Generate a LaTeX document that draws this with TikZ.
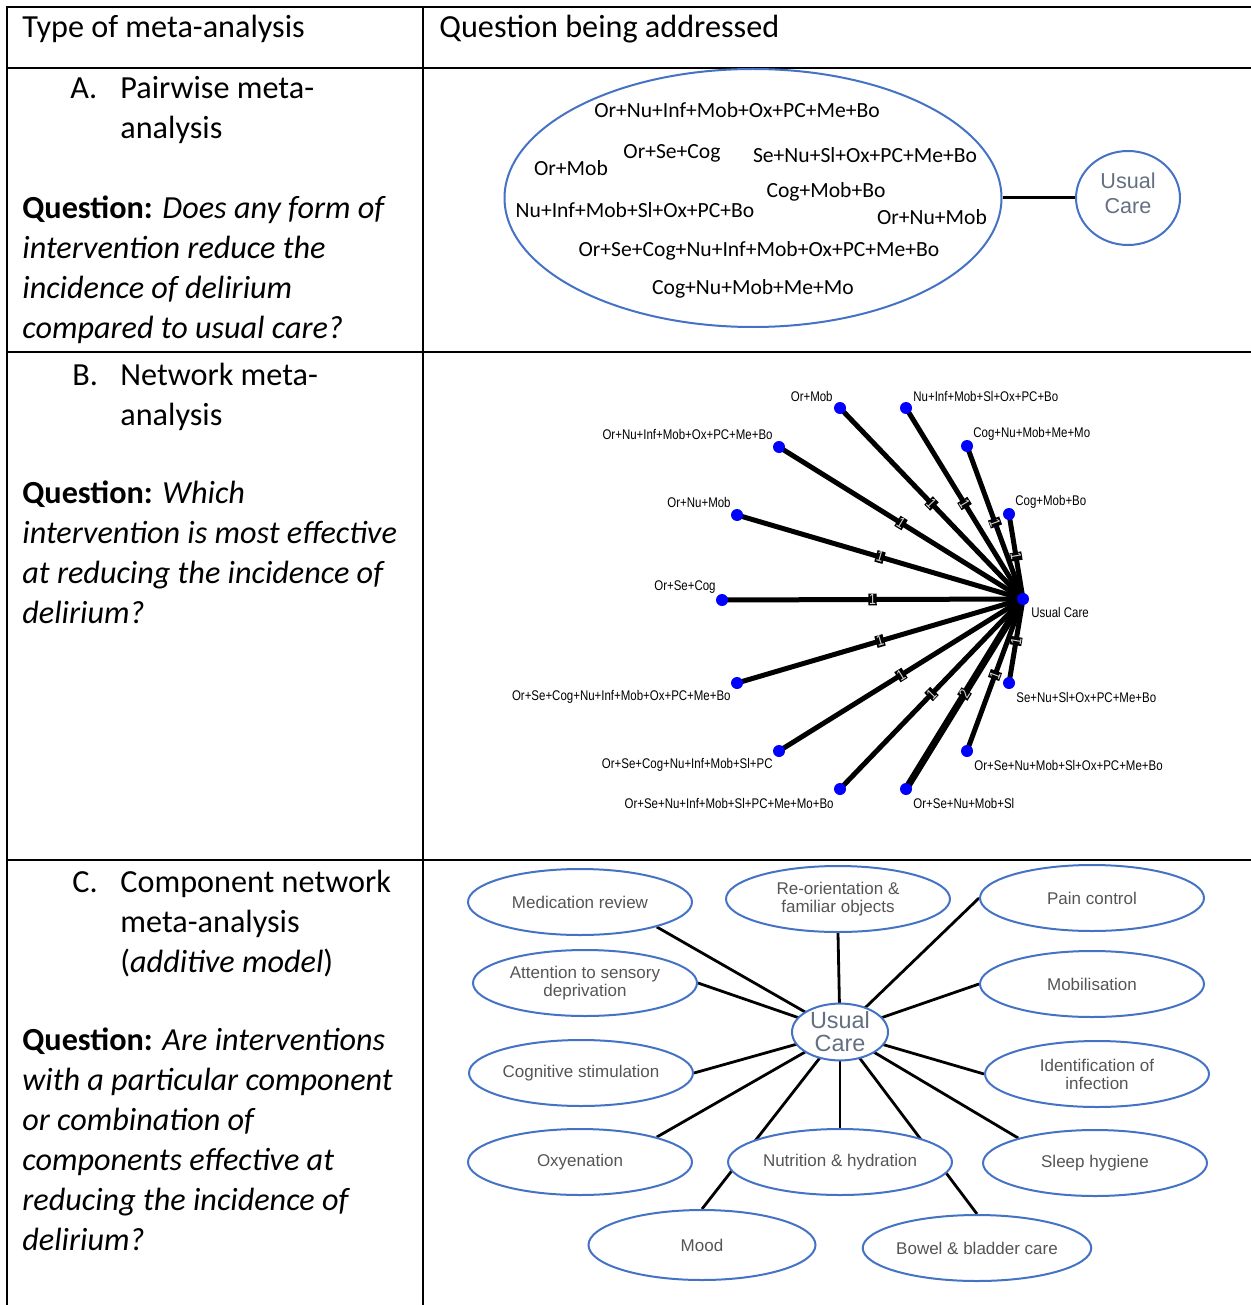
\documentclass[tikz,border=0pt]{standalone}
\usepackage{fontspec}
\setmainfont{Carlito}
\newfontfamily\arialfont{Liberation Sans}
\newfontfamily\narrowfont[FakeStretch=0.82]{Liberation Sans}
\usetikzlibrary{shapes.geometric,backgrounds}
\definecolor{ellblue}{RGB}{68,114,196}
\definecolor{dotblue}{RGB}{0,0,255}
\definecolor{labgray}{RGB}{85,85,85}
\definecolor{hubgray}{RGB}{100,112,130}

\begin{document}
\begin{tikzpicture}[x=0.5pt, y=-0.5pt,
    rule/.style={line width=1pt},
    cell/.style={anchor=base west, align=left, inner sep=0pt, font=\fontsize{16.1}{20}\selectfont},
    combo/.style={inner sep=0pt, font=\fontsize{10.8}{13}\selectfont},
    pool/.style={draw=ellblue, line width=1pt, ellipse, minimum width=248.5pt, minimum height=129pt},
    hubA/.style={draw=ellblue, line width=1pt, ellipse, minimum width=52pt, minimum height=47pt,
                 align=center, inner sep=0pt, text=hubgray, font=\arialfont\fontsize{10.8}{12.5}\selectfont},
    dotB/.style={circle, fill=dotblue, minimum size=6pt, inner sep=0pt},
    lblB/.style={inner sep=0pt, font=\narrowfont\fontsize{7}{8}\selectfont},
    edgeB/.style={line width=2.5pt},
    wt/.style={sloped, fill=black, inner sep=0.4pt, text=gray!30, font=\narrowfont\fontsize{7.5}{8}\selectfont},
    comp/.style={draw=ellblue, line width=1pt, ellipse, fill=white, minimum width=112pt, minimum height=33pt,
                 inner sep=0pt, align=center, text=labgray, font=\arialfont\fontsize{8.5}{9}\selectfont},
    spoke/.style={line width=1.4pt}]
  \useasboundingbox (0,0) rectangle (1251,1305);
  % table rules
  \draw[rule] (1251,7) -- (7,7) -- (7,1305);
  \draw[rule] (423,7) -- (423,1305);
  \foreach \yy in {68,352,860}
    \draw[rule] (7,\yy) -- (1251,\yy);
  % left column (base = last line)
  \node[cell] (typ) at (22,38) {Type of meta-analysis};
  \node[cell] (qhd) at (439,38) {Question being addressed};
  \node[cell] (la) at (70,99) {A.};
  \node[cell] (ta) at (120,139) {Pairwise meta-\\analysis};
  \node[cell] (qa) at (22,338) {\textbf{Question:} \textit{Does any form of}\\\textit{intervention reduce the}\\
    \textit{incidence of delirium}\\\textit{compared to usual care?}};
  \node[cell] (lb) at (72,385) {B.};
  \node[cell] (tb) at (120,425) {Network meta-\\analysis};
  \node[cell] (qb) at (22,623) {\textbf{Question:} \textit{Which}\\\textit{intervention is most effective}\\
    \textit{at reducing the incidence of}\\\textit{delirium?}};
  \node[cell] (lc) at (72,892) {C.};
  \node[cell] (tc) at (120,972) {Component network\\meta-analysis\\(\textit{additive model})};
  \node[cell] (qc) at (22,1250) {\textbf{Question:} \textit{Are interventions}\\\textit{with a particular component}\\
    \textit{or combination of}\\\textit{components effective at}\\\textit{reducing the incidence of}\\\textit{delirium?}};

  % A: pairwise
  \node[pool] (pool) at (753,198) {};
  \node[hubA] (ucA) at (1128,198) {Usual\\Care\\[-11pt]\strut};
  \draw[line width=1.5pt] (pool) -- (ucA);
  \node[combo] (a1) at (737,110) {Or+Nu+Inf+Mob+Ox+PC+Me+Bo};
  \node[combo] (a2) at (571,168) {Or+Mob};
  \node[combo] (a3) at (672,153) {Or+Se+Cog};
  \node[combo] (a4) at (865,155) {Se+Nu+Sl+Ox+PC+Me+Bo};
  \node[combo] (a5) at (826,192) {Cog+Mob+Bo};
  \node[combo] (a6) at (635,210) {Nu+Inf+Mob+Sl+Ox+PC+Bo};
  \node[combo] (a7) at (932,217) {Or+Nu+Mob};
  \node[combo] (a8) at (759,251) {Or+Se+Cog+Nu+Inf+Mob+Ox+PC+Me+Bo};
  \node[combo] (a9) at (753,289) {Cog+Nu+Mob+Me+Mo};

  % B: network
  \foreach \n/\px/\py/\lx/\ly/\an/\txt in {
      ucB/1023/599/1031/612/west/Usual Care,
      om/840/408/833/396/east/Or+Mob,
      nim/906/408/913/396/west/Nu+Inf+Mob+Sl+Ox+PC+Bo,
      onim/779/447/773/434/east/Or+Nu+Inf+Mob+Ox+PC+Me+Bo,
      cnm/967/446/973/434/west/Cog+Nu+Mob+Me+Mo,
      onm/737/515/731/502/east/Or+Nu+Mob,
      cmb/1009/514/1015/502/west/Cog+Mob+Bo,
      osc/722/600/716/587/east/Or+Se+Cog,
      oscn/737/683/731/697/east/Or+Se+Cog+Nu+Inf+Mob+Ox+PC+Me+Bo,
      snso/1009/683/1016/697/west/Se+Nu+Sl+Ox+PC+Me+Bo,
      oscs/779/751/773/765/east/Or+Se+Cog+Nu+Inf+Mob+Sl+PC,
      osnm/967/751/974/765/west/Or+Se+Nu+Mob+Sl+Ox+PC+Me+Bo,
      osni/840/789/834/803/east/Or+Se+Nu+Inf+Mob+Sl+PC+Me+Mo+Bo,
      osns/906/789/913/803/west/Or+Se+Nu+Mob+Sl} {
    \node[dotB] (\n) at (\px,\py) {};
    \node[lblB, anchor=\an] (\n-l) at (\lx,\ly) {\txt};
  }
  \begin{scope}[on background layer]
    \foreach \n in {om,nim,onim,cnm,onm,cmb,osc,oscn,snso,oscs,osnm,osni}
      \draw[edgeB] (ucB.center) -- node[wt] {1} (\n.center);
    \draw[edgeB, line width=3.5pt] (ucB.center) -- node[wt] {2} (osns.center);
  \end{scope}

  % C: component network
  \node[comp] (med) at (580,902) {Medication review};
  \node[comp] (reo) at (838,899) {Re-orientation \&\\familiar objects};
  \node[comp] (pain) at (1092,898) {Pain control};
  \node[comp] (att) at (585,983) {Attention to sensory\\deprivation};
  \node[comp] (mobi) at (1092,984) {Mobilisation};
  \node[comp] (cogs) at (581,1073) {Cognitive stimulation};
  \node[comp] (inf) at (1097,1074) {Identification of\\infection};
  \node[comp] (oxy) at (580,1162) {Oxyenation};
  \node[comp] (nut) at (840,1162) {Nutrition \& hydration};
  \node[comp] (sleep) at (1095,1163) {Sleep hygiene};
  \node[comp, minimum width=113.5pt, minimum height=35pt] (mood) at (702,1245) {Mood};
  \node[comp] (bowel) at (977,1248) {Bowel \& bladder care};
  \node[comp, minimum width=48pt, minimum height=27.5pt, text=hubgray,
        font=\arialfont\fontsize{11.7}{11.5}\selectfont] (ucC) at (840,1032) {Usual\\Care};
  \begin{scope}[on background layer]
    \foreach \n/\a in {med/-18, att/east, reo/south, pain/west, mobi/west, inf/west,
                       sleep/162, bowel/north, nut/north, cogs/east, oxy/18, mood/north}
      \draw[spoke] (ucC.center) -- (\n.\a);
  \end{scope}
\end{tikzpicture}
\end{document}
